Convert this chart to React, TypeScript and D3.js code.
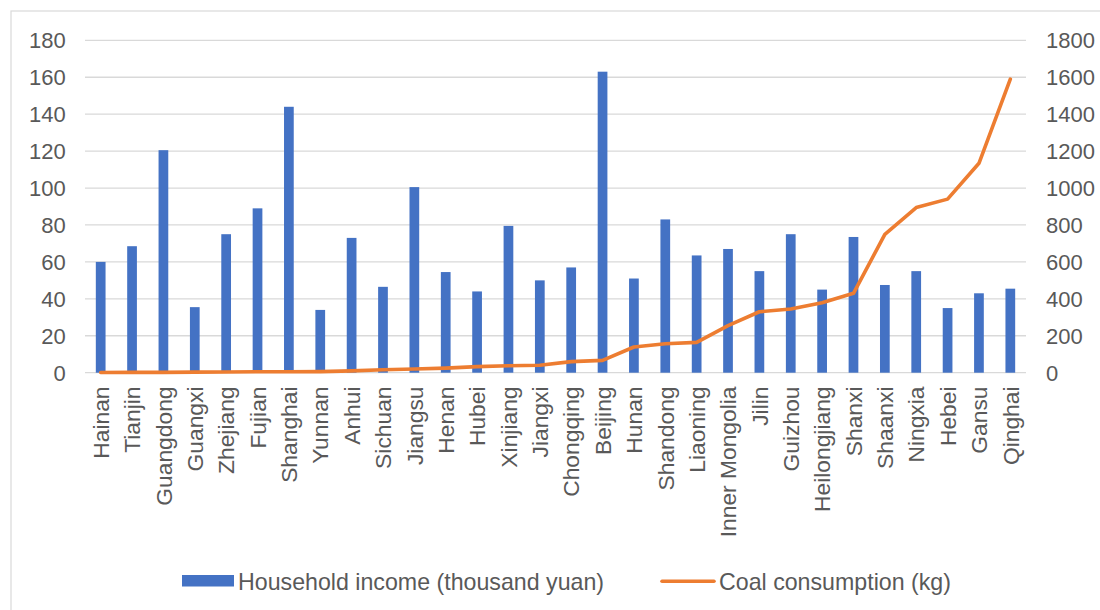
import React from "react";
import * as d3 from "d3";

const provinces = [
  "Hainan", "Tianjin", "Guangdong", "Guangxi", "Zhejiang", "Fujian", "Shanghai", "Yunnan", "Anhui", "Sichuan",
  "Jiangsu", "Henan", "Hubei", "Xinjiang", "Jiangxi", "Chongqing", "Beijing", "Hunan", "Shandong", "Liaoning",
  "Inner Mongolia", "Jilin", "Guizhou", "Heilongjiang", "Shanxi", "Shaanxi", "Ningxia", "Hebei", "Gansu", "Qinghai",
];
const income = [
  60, 68.5, 120.5, 35.5, 75, 89, 144, 34, 73, 46.5,
  100.5, 54.5, 44, 79.5, 50, 57, 163, 51, 83, 63.5,
  67, 55, 75, 45, 73.5, 47.5, 55, 35, 43, 45.5,
];
const coal = [
  1, 2, 2, 3, 4, 5, 5, 6, 10, 16,
  20, 25, 33, 38, 40, 60, 67, 139, 157, 164,
  255, 330, 345, 379, 430, 749, 894, 940, 1134, 1590,
];
const leftTicks = [0, 20, 40, 60, 80, 100, 120, 140, 160, 180];
const rightTicks = [0, 200, 400, 600, 800, 1000, 1200, 1400, 1600, 1800];
const seriesNames = ["Household income (thousand yuan)", "Coal consumption (kg)"];

const W = 1100;
const H = 610;
const plot = { left: 85, right: 1026, top: 40.3, bottom: 372.7 };
const FONT = "'Liberation Sans', Arial, sans-serif";
const GRAY = "#595959";
const BLUE = "#4472C4";
const ORANGE = "#ED7D31";

export default function App() {
  const x = d3.scaleBand<string>().domain(provinces).range([plot.left, plot.right]).paddingInner(0).paddingOuter(0);
  const yL = d3.scaleLinear().domain([0, 180]).range([plot.bottom, plot.top]);
  const yR = d3.scaleLinear().domain([0, 1800]).range([plot.bottom, plot.top]);
  const bw = x.bandwidth() * 0.31;
  const cx = (p: string) => (x(p) as number) + x.bandwidth() / 2;

  const line = d3
    .line<number>()
    .x((_, i) => cx(provinces[i]))
    .y((d) => yR(d));

  return (
    <svg
      width={W}
      height={H}
      style={{ position: "absolute", left: 0, top: 0, background: "#fff" }}
      fontFamily={FONT}
    >
      <rect x={11} y={11} width={1200} height={700} fill="#fff" stroke="#d9d9d9" strokeWidth={1.2} />
      {leftTicks.map((t) => (
        <line key={"g" + t} x1={plot.left} x2={plot.right} y1={yL(t)} y2={yL(t)} stroke="#d9d9d9" strokeWidth={1.3} />
      ))}
      {leftTicks.map((t) => (
        <text key={"l" + t} x={65.7} y={yL(t)} dy="0.36em" textAnchor="end" fontSize={22} fill={GRAY}>
          {t}
        </text>
      ))}
      {rightTicks.map((t) => (
        <text key={"r" + t} x={1046} y={yR(t)} dy="0.36em" textAnchor="start" fontSize={22} fill={GRAY}>
          {t}
        </text>
      ))}
      {provinces.map((p, i) => (
        <rect key={"b" + p} x={cx(p) - bw / 2} y={yL(income[i])} width={bw} height={yL(0) - yL(income[i])} fill={BLUE} />
      ))}
      <path d={line(coal) || ""} fill="none" stroke={ORANGE} strokeWidth={3.6} strokeLinejoin="round" strokeLinecap="round" />
      {provinces.map((p) => (
        <text
          key={"x" + p}
          transform={`translate(${cx(p)},386.5) rotate(-90)`}
          dy="0.36em"
          textAnchor="end"
          fontSize={22.8}
          fill={GRAY}
        >
          {p}
        </text>
      ))}
      <rect x={182} y={575} width={52} height={11.5} fill={BLUE} />
      <text x={238} y={590} fontSize={23.2} fill={GRAY}>
        {seriesNames[0]}
      </text>
      <line x1={662} x2={714} y1={581.2} y2={581.2} stroke={ORANGE} strokeWidth={3.6} strokeLinecap="round" />
      <text x={719} y={590} fontSize={23.2} fill={GRAY}>
        {seriesNames[1]}
      </text>
    </svg>
  );
}
